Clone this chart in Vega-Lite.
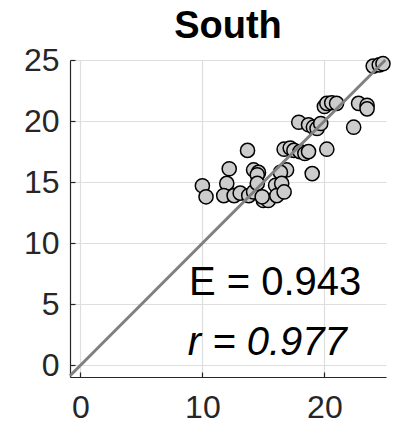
{
  "$schema": "https://vega.github.io/schema/vega-lite/v6.json",
  "autosize": "none",
  "width": 316,
  "height": 317,
  "padding": {"left": 70, "top": 60, "right": 14, "bottom": 50},
  "background": "white",
  "title": {"text": "South", "font": "Liberation Sans", "fontSize": 38, "fontWeight": "bold", "color": "#000000", "anchor": "middle", "baseline": "alphabetic", "offset": 0, "dy": 32},
  "config": {
    "view": {"stroke": null},
    "axis": {
      "labelFont": "Liberation Sans", "labelFontSize": 32, "labelColor": "#262626",
      "domainColor": "#262626", "domainWidth": 1.2,
      "tickColor": "#262626", "tickSize": -5, "tickWidth": 1.2,
      "gridColor": "#dedede", "gridWidth": 1.2,
      "title": null
    }
  },
  "layer": [
    {
      "data": {"values": [
        {"obs": 24.0, "sim": 24.5}, {"obs": 24.5, "sim": 24.6}, {"obs": 24.8, "sim": 24.7},
        {"obs": 20.0, "sim": 21.2}, {"obs": 20.2, "sim": 21.45}, {"obs": 20.6, "sim": 21.5}, {"obs": 21.0, "sim": 21.45},
        {"obs": 22.8, "sim": 21.45}, {"obs": 23.5, "sim": 21.3}, {"obs": 23.5, "sim": 21.0},
        {"obs": 17.9, "sim": 19.9}, {"obs": 18.7, "sim": 19.7}, {"obs": 19.1, "sim": 19.5}, {"obs": 19.4, "sim": 19.4},
        {"obs": 19.7, "sim": 19.8}, {"obs": 22.4, "sim": 19.5},
        {"obs": 13.7, "sim": 17.6}, {"obs": 16.7, "sim": 17.7}, {"obs": 17.2, "sim": 17.8}, {"obs": 17.5, "sim": 17.6},
        {"obs": 18.0, "sim": 17.5}, {"obs": 18.4, "sim": 17.35}, {"obs": 18.7, "sim": 17.5}, {"obs": 20.2, "sim": 17.7},
        {"obs": 12.2, "sim": 16.1}, {"obs": 14.2, "sim": 16.0}, {"obs": 14.6, "sim": 15.8}, {"obs": 16.9, "sim": 16.0},
        {"obs": 19.0, "sim": 15.7}, {"obs": 14.5, "sim": 15.6}, {"obs": 16.4, "sim": 15.8},
        {"obs": 10.0, "sim": 14.7}, {"obs": 10.3, "sim": 13.8}, {"obs": 12.0, "sim": 14.9}, {"obs": 11.75, "sim": 13.9},
        {"obs": 12.6, "sim": 13.9}, {"obs": 13.1, "sim": 14.1}, {"obs": 13.8, "sim": 13.9}, {"obs": 14.2, "sim": 14.2},
        {"obs": 14.5, "sim": 14.9}, {"obs": 15.0, "sim": 13.5}, {"obs": 15.4, "sim": 13.5}, {"obs": 16.0, "sim": 14.75},
        {"obs": 16.1, "sim": 13.9}, {"obs": 16.5, "sim": 14.9}, {"obs": 16.7, "sim": 14.2}, {"obs": 14.9, "sim": 13.8}
      ]},
      "mark": {"type": "point", "shape": "circle", "filled": true, "size": 200, "fill": "#cccccc", "stroke": "#000000", "strokeWidth": 1.5, "opacity": 1, "fillOpacity": 1},
      "encoding": {
        "x": {"field": "obs", "type": "quantitative", "scale": {"domain": [-0.85, 25.05], "nice": false, "zero": false},
              "axis": {"values": [0, 10, 20], "labelPadding": 20, "grid": true}},
        "y": {"field": "sim", "type": "quantitative", "scale": {"domain": [-0.95, 25.0], "nice": false, "zero": false},
              "axis": {"values": [0, 5, 10, 15, 20, 25], "labelPadding": 16, "grid": true}}
      }
    },
    {
      "data": {"values": [{"x1": -0.85, "y1": -0.85, "x2": 25.0, "y2": 25.0}]},
      "mark": {"type": "rule", "color": "#808080", "strokeWidth": 3},
      "encoding": {
        "x": {"field": "x1", "type": "quantitative"},
        "y": {"field": "y1", "type": "quantitative"},
        "x2": {"field": "x2"},
        "y2": {"field": "y2"}
      }
    },
    {
      "data": {"values": [{"label": "E = 0.943", "tx": 8.9, "ty": 5.8}]},
      "mark": {"type": "text", "font": "Liberation Sans", "fontSize": 40, "align": "left", "baseline": "alphabetic", "color": "#000000"},
      "encoding": {
        "x": {"field": "tx", "type": "quantitative"},
        "y": {"field": "ty", "type": "quantitative"},
        "text": {"field": "label"}
      }
    },
    {
      "data": {"values": [{"label": "r = 0.977", "tx": 8.8, "ty": 0.82}]},
      "mark": {"type": "text", "font": "Liberation Sans", "fontSize": 40, "fontStyle": "italic", "align": "left", "baseline": "alphabetic", "color": "#000000"},
      "encoding": {
        "x": {"field": "tx", "type": "quantitative"},
        "y": {"field": "ty", "type": "quantitative"},
        "text": {"field": "label"}
      }
    }
  ]
}
